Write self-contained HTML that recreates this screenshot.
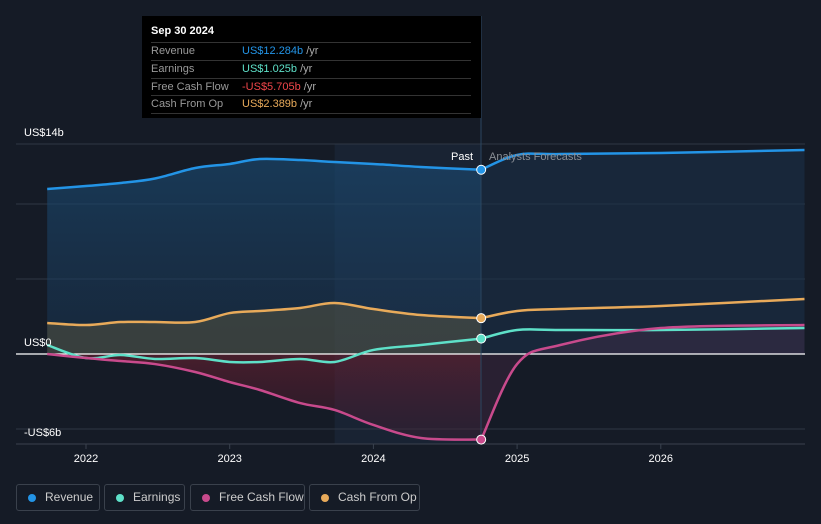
<!DOCTYPE html>
<html><head><meta charset="utf-8"><style>
body{margin:0;background:#151b26;width:821px;height:524px;overflow:hidden;font-family:"Liberation Sans",sans-serif;}
svg{position:absolute;left:0;top:0}
.tt{position:absolute;left:142px;top:16px;width:339px;height:102px;background:#000;color:#fff;font-size:11px}
.tt .h{position:absolute;left:9px;top:9px;font-weight:bold;font-size:11px}
.row{position:absolute;left:9px;width:320px;height:17px;border-top:1px solid #333;line-height:17px;color:#999}
.row span{position:absolute;left:91px}
.leg{position:absolute;top:484px;height:27px;border:1px solid #3a414c;border-radius:3px;color:#ccc;font-size:12px;line-height:25px;box-sizing:border-box;padding-left:28px;white-space:nowrap}
.leg i{position:absolute;left:11px;top:9px;width:8px;height:8px;border-radius:50%}
</style></head><body>
<svg id="c" width="821" height="524"></svg>
<div class="tt">
<div class="h">Sep 30 2024</div>
<div class="row" style="top:26px">Revenue<span style="color:#2394e6">US$12.284b <b style="font-weight:normal;color:#aaa">/yr</b></span></div>
<div class="row" style="top:44px">Earnings<span style="color:#5ee0c8">US$1.025b <b style="font-weight:normal;color:#aaa">/yr</b></span></div>
<div class="row" style="top:62px">Free Cash Flow<span style="color:#f0464a">-US$5.705b <b style="font-weight:normal;color:#aaa">/yr</b></span></div>
<div class="row" style="top:79px;border-bottom:1px solid #333">Cash From Op<span style="color:#e8aa5a">US$2.389b <b style="font-weight:normal;color:#aaa">/yr</b></span></div>
</div>
<div class="leg" style="left:16px;width:84px"><i style="background:#2394e6"></i>Revenue</div>
<div class="leg" style="left:104px;width:81px"><i style="background:#5ee0c8"></i>Earnings</div>
<div class="leg" style="left:190px;width:115px"><i style="background:#c84a8c"></i>Free Cash Flow</div>
<div class="leg" style="left:309px;width:111px"><i style="background:#e8aa5a"></i>Cash From Op</div>
<script>
const xs=[2021.73,2022,2022.24,2022.48,2022.76,2023,2023.21,2023.49,2023.73,2024,2024.33,2024.75];
const revenue=[11.0,11.2,11.4,11.7,12.4,12.67,13.0,12.93,12.8,12.67,12.47,12.284];
const cashOp=[2.07,1.93,2.13,2.13,2.13,2.73,2.87,3.07,3.4,3.0,2.6,2.389];
const earnings=[0.6,-0.27,-0.07,-0.33,-0.27,-0.53,-0.53,-0.33,-0.53,0.27,0.6,1.025];
const fcf=[0,-0.27,-0.47,-0.67,-1.2,-1.87,-2.4,-3.27,-3.73,-4.73,-5.6,-5.705];
const fxs=[2024.75,2025,2025.3,2026,2027];
const fRevenue=[12.284,13.27,13.33,13.4,13.6];
const fCashOp=[2.389,2.87,3.0,3.2,3.67];
const fEarnings=[1.025,1.6,1.6,1.6,1.73];
const fFcf=[-5.705,-0.67,0.6,1.73,1.93];
const yTicks=[14,0,-6];const yLabels=["US$14b","US$0","-US$6b"];
const xTicks=[2022,2023,2024,2025,2026];
const X=t=>86+(t-2022)*143.7, Y=v=>354-v*15;
const svg=document.getElementById('c');const NS='http://www.w3.org/2000/svg';
function el(t,a,p){const e=document.createElementNS(NS,t);for(const k in a)e.setAttribute(k,a[k]);(p||svg).appendChild(e);return e;}
function path(xa,ya){const p=xa.map((x,i)=>[X(x),Y(ya[i])]);let d='M'+p[0];for(let i=0;i<p.length-1;i++){const a=p[i-1]||p[i],b=p[i],c=p[i+1],e=p[i+2]||c;d+=' C'+(b[0]+(c[0]-a[0])/6)+','+(b[1]+(c[1]-a[1])/6)+' '+(c[0]-(e[0]-b[0])/6)+','+(c[1]-(e[1]-b[1])/6)+' '+c;}return d;}
const defs=el('defs',{});
defs.innerHTML='<linearGradient id="gb" x1="0" x2="0" y1="0" y2="1"><stop offset="0" stop-color="#1a4a72" stop-opacity=".8"/><stop offset="1" stop-color="#1a3a5a" stop-opacity=".5"/></linearGradient><linearGradient id="gr" x1="0" x2="0" y1="0" y2="1"><stop offset="0" stop-color="#6a2030" stop-opacity=".6"/><stop offset="1" stop-color="#4a1a30" stop-opacity=".3"/></linearGradient>';
let r=el('rect',{x:X(2023.73),y:144,width:X(2024.75)-X(2023.73),height:300,fill:'#1c2a3c',opacity:.6});
[14,10,5,-5].forEach(v=>{const g=el('line',{x1:16,x2:805,y1:Y(v),y2:Y(v),stroke:'#2e3744'});});
el('line',{x1:16,x2:805,y1:444,y2:444,stroke:'#3a424e'});
function area(xa,ya,fill,op,nm){const a=el('path',{d:path(xa,ya)+' L'+X(xa[xa.length-1])+','+Y(0)+' L'+X(xa[0])+','+Y(0)+'Z',fill:fill,opacity:op});}
area(xs,revenue,'url(#gb)',0.8,'revenue-area');area(xs,cashOp,'#5a5540',0.5,'cashop-area');
area(xs,fcf,'url(#gr)',1,'fcf-area');
area(fxs,fRevenue,'#1a3048',0.6,'revenue-forecast-area');area(fxs,fFcf,'#5a3050',0.3,'fcf-forecast-area');
el('line',{x1:16,x2:805,y1:354,y2:354,stroke:'#fff','stroke-width':1.2});
el('line',{x1:481,x2:481,y1:16,y2:444,stroke:'#2a4660'});
const ser=[[revenue,fRevenue,'#2394e6','revenue'],[cashOp,fCashOp,'#e8aa5a','cash-from-op'],[earnings,fEarnings,'#5ee0c8','earnings'],[fcf,fFcf,'#c84a8c','free-cash-flow']];
ser.forEach(s=>{let l=el('path',{d:path(xs,s[0]),fill:'none',stroke:s[2],'stroke-width':2.5});
l=el('path',{d:path(fxs,s[1]),fill:'none',stroke:s[2],'stroke-width':2.5});});
ser.forEach(s=>{const c=el('circle',{cx:X(2024.75),cy:Y(s[0][s[0].length-1]),r:4.5,fill:s[2],stroke:'#fff','stroke-width':1});});
const yOff=[-8,-8,-8];
yTicks.forEach((v,i)=>{const t=el('text',{x:24,y:v==-6?436:Y(v)-8,fill:'#fff','font-size':11});t.textContent=yLabels[i];});
xTicks.forEach(v=>{el('line',{x1:X(v),x2:X(v),y1:444,y2:449,stroke:'#3a424e'});const t=el('text',{x:X(v),y:462,fill:'#fff','font-size':11,'text-anchor':'middle'});t.textContent=v;});
let t=el('text',{x:473,y:160,fill:'#fff','font-size':11,'text-anchor':'end'});t.textContent='Past';
t=el('text',{x:489,y:160,fill:'#8a8f96','font-size':11});t.textContent='Analysts Forecasts';
</script>
</body></html>
